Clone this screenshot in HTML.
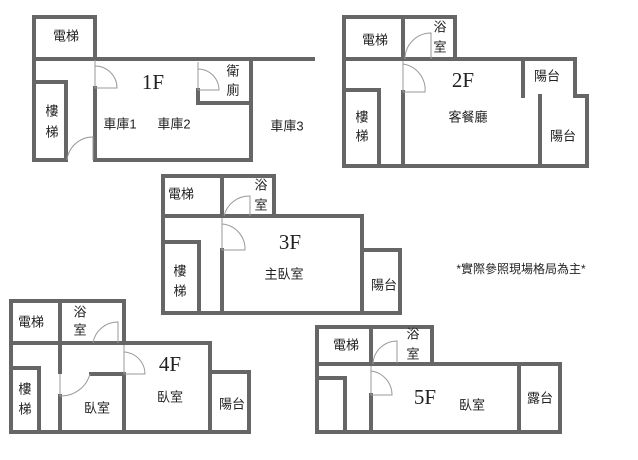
<!DOCTYPE html>
<html><head><meta charset="utf-8"><style>
body{margin:0;background:#fff}
svg{display:block}
text{font-family:"Liberation Sans","Noto Sans CJK TC",sans-serif;font-size:13px;fill:#222;text-anchor:middle;dominant-baseline:middle}
.f{font-family:"Liberation Serif",serif;font-size:21px}
.w{stroke:#666;stroke-width:4;fill:none;stroke-linecap:square}
.d{stroke:#999;stroke-width:1;fill:none}
</style></head><body>
<svg width="638" height="460" viewBox="0 0 638 460">
<!-- 1F -->
<path class="w" d="M34 17H95V57 M34 59H313 M34 17V160H66 M97 160H251V59 M36 82H66V160 M95 88V160 M198 90V103H251"/>
<path class="d" d="M95 60V88H117A22 22 0 0 0 95 66 M198 62V90H219A21 21 0 0 0 198 69 M67 160A26 26 0 0 1 93 137V160"/>
<text x="66" y="37">電梯</text><text class="f" x="153" y="84">1F</text>
<text x="233" y="72">衛</text><text x="233" y="91">廁</text>
<text x="52" y="112">樓</text><text x="52" y="133">梯</text>
<text x="120" y="125">車庫1</text><text x="174" y="125">車庫2</text><text x="287" y="127">車庫3</text>
<!-- 2F -->
<path class="w" d="M344 59V17H455V59 M403 17V57 M344 59H575V96H587V166H344Z M523 59V96 M540 96V166 M344 90H379V166 M403 92V166"/>
<path class="d" d="M403 61V92H425A26 26 0 0 0 403 64 M405 59A26 26 0 0 1 431 33V59"/>
<text x="375" y="41">電梯</text><text x="440" y="28">浴</text><text x="440" y="48">室</text>
<text class="f" x="463" y="82">2F</text><text x="547" y="77">陽台</text><text x="468" y="118">客餐廳</text>
<text x="563" y="137">陽台</text><text x="362" y="118">樓</text><text x="362" y="137">梯</text>
<!-- 3F -->
<path class="w" d="M163 216V176H274V216 M222 176V214 M163 216H362V250H400V313H163Z M362 250V313 M163 242H199V313 M222 250V313"/>
<path class="d" d="M222 218V250H245A25 25 0 0 0 222 224 M224 216A26 26 0 0 1 250 196V216"/>
<text x="181" y="195">電梯</text><text x="261" y="186">浴</text><text x="261" y="206">室</text>
<text class="f" x="290" y="244">3F</text><text x="284" y="275">主臥室</text><text x="384" y="286">陽台</text>
<text x="180" y="272">樓</text><text x="180" y="292">梯</text>
<!-- 4F -->
<path class="w" d="M11 343V301H124V341 M60 301V341 M11 343H210V372H249V432H11Z M210 343V432 M11 368H39V432 M60 343V372 M60 396V432 M91 374H124V432"/>
<path class="d" d="M124 345V374H145A22 22 0 0 0 124 352 M93 343A25 25 0 0 1 118 322V343 M60 374V396A30 30 0 0 0 90 374"/>
<text x="31" y="323">電梯</text><text x="80" y="313">浴</text><text x="80" y="331">室</text>
<text class="f" x="170" y="366">4F</text><text x="170" y="398">臥室</text><text x="97" y="409">臥室</text>
<text x="232" y="405">陽台</text><text x="25" y="390">樓</text><text x="25" y="410">梯</text>
<!-- 5F -->
<path class="w" d="M317 364V327H432V362 M371 327V362 M317 364H560V432H317Z M519 364V432 M317 378H345V432 M371 395V432"/>
<path class="d" d="M371 366V395H392A24 24 0 0 0 371 371 M373 364A24 24 0 0 1 397 341V363"/>
<text x="346" y="346">電梯</text><text x="413" y="335">浴</text><text x="413" y="355">室</text>
<text class="f" x="425" y="399">5F</text><text x="472" y="406">臥室</text><text x="540" y="399">露台</text>
<text x="521" y="270" style="font-size:12px">*實際參照現場格局為主*</text>
</svg>
</body></html>
